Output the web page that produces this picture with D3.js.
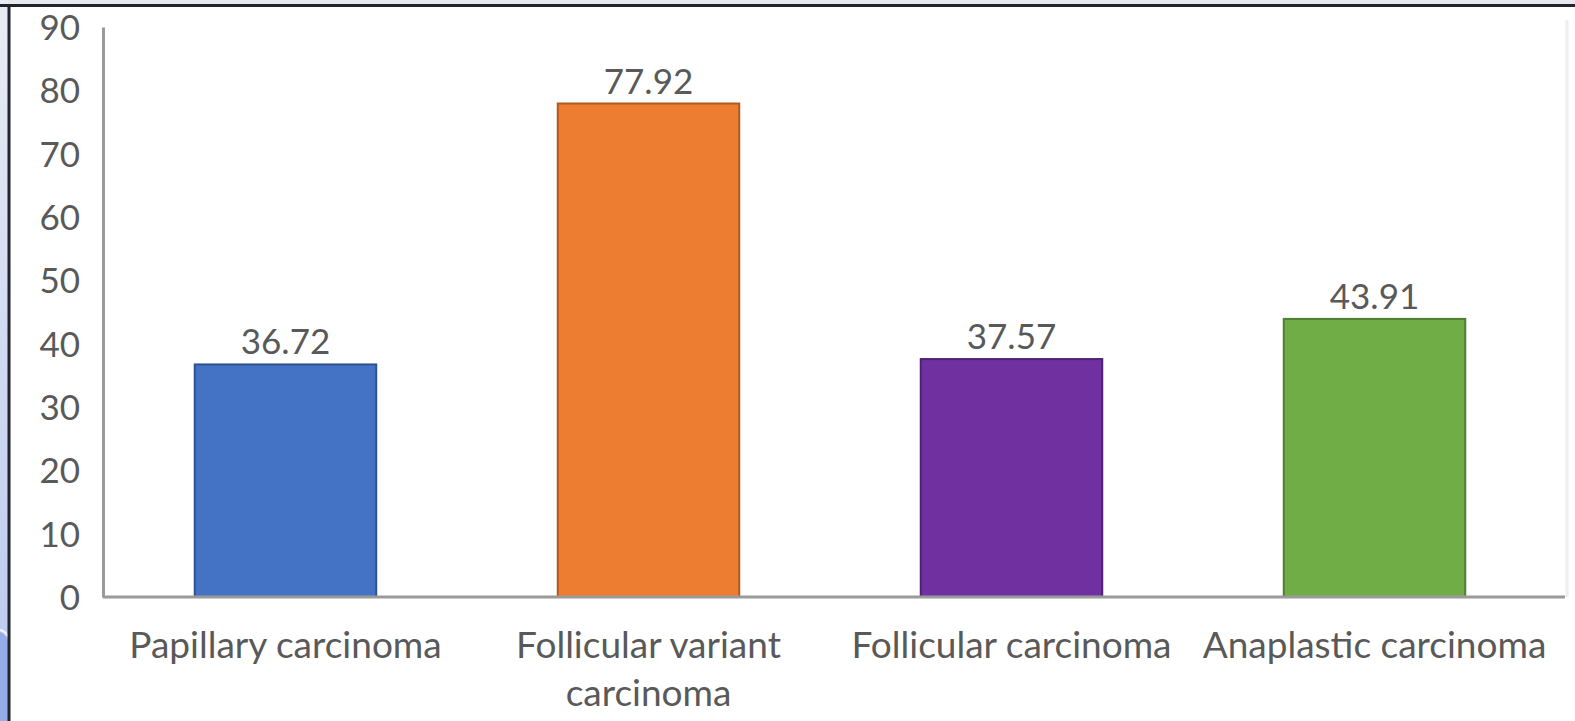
<!DOCTYPE html>
<html>
<head>
<meta charset="utf-8">
<script src="https://cdnjs.cloudflare.com/ajax/libs/d3/7.8.5/d3.min.js"></script>
<style>
	body { margin: 0; background: #fff; }
	svg { display: block; }
	text { font-family: Lato, "Open Sans", sans-serif; fill: #595959; }
</style>
</head>
<body>
<svg width="1575" height="721"></svg>
<script>
var categories = ["Papillary carcinoma", "Follicular variant carcinoma", "Follicular carcinoma", "Anaplastic carcinoma"];
var values = [36.72, 77.92, 37.57, 43.91];
var colors = ["#4472C4", "#ED7D31", "#7030A0", "#70AD47"];
var strokes = ["#2F528F", "#AE5A21", "#4E2270", "#507E32"];
var yTicks = [0, 10, 20, 30, 40, 50, 60, 70, 80, 90];

var svg = d3.select("svg");
var width = +svg.attr("width");
var height = +svg.attr("height");

// the screenshot frame around the chart
var defs = svg.append("defs");
var grad = defs.append("linearGradient").attr("id", "side").attr("x1", 0).attr("y1", 0).attr("x2", 0).attr("y2", 1);
grad.append("stop").attr("offset", "0%").attr("stop-color", "#e9ecf5");
grad.append("stop").attr("offset", "100%").attr("stop-color", "#b9c8ef");
svg.append("rect").attr("x", 0).attr("y", 0).attr("width", width).attr("height", 5).attr("fill", "#e6e8ee");
svg.append("rect").attr("x", 0).attr("y", 0).attr("width", 8).attr("height", height).attr("fill", "url(#side)");
svg.append("path").attr("d", "M0,632 Q5,634 8,640 L8,721 L0,721 Z").attr("fill", "#95ace8");
svg.append("path").attr("d", "M0,630 Q5,631 8,636").attr("fill", "none").attr("stroke", "#f4f6fc").attr("stroke-width", 2);
svg.append("line").attr("x1", 0).attr("x2", width).attr("y1", 5.5).attr("y2", 5.5).attr("stroke", "#22252b").attr("stroke-width", 3);
svg.append("line").attr("x1", 9).attr("x2", 9).attr("y1", 4).attr("y2", height).attr("stroke", "#22252b").attr("stroke-width", 3);
svg.append("line").attr("x1", 1567).attr("x2", 1567).attr("y1", 20).attr("y2", 597).attr("stroke", "#eeeeee").attr("stroke-width", 3);

var x = d3.scaleBand().domain(categories).range([104, 1556]).paddingInner(0.5).paddingOuter(0.25);
var y = d3.scaleLinear().domain([0, 90]).range([597, 27]);

// bars
svg.append("g")
	.selectAll("rect")
	.data(values)
	.enter().append("rect")
		.attr("x", function(d, i) { return x(categories[i]); })
		.attr("y", function(d) { return y(d); })
		.attr("width", x.bandwidth())
		.attr("height", function(d) { return y(0) - y(d); })
		.attr("fill", function(d, i) { return colors[i]; })
		.attr("stroke", function(d, i) { return strokes[i]; })
		.attr("stroke-width", 2);

// value labels
svg.append("g")
	.selectAll("text")
	.data(values)
	.enter().append("text")
		.attr("x", function(d, i) { return x(categories[i]) + x.bandwidth() / 2; })
		.attr("y", function(d) { return y(d) - 10; })
		.attr("text-anchor", "middle")
		.style("font-size", "35px")
		.text(function(d) { return d.toFixed(2); });

// y axis
var yAxis = svg.append("g")
	.attr("transform", "translate(103,0)")
	.call(d3.axisLeft(y).tickValues(yTicks).tickSize(0).tickPadding(23));
yAxis.select(".domain").attr("stroke", "#9a9a9a").attr("stroke-width", 3);
yAxis.selectAll("text").style("font-size", "35px").attr("dy", "0.36em").attr("fill", "#595959");

// x axis
var xAxis = svg.append("g")
	.attr("transform", "translate(0,597)")
	.call(d3.axisBottom(x).tickSize(0).tickPadding(0));
xAxis.select(".domain").attr("d", "M103,0H1565").attr("stroke", "#9a9a9a").attr("stroke-width", 3);
xAxis.selectAll("text")
	.style("font-size", "37px")
	.attr("fill", "#595959")
	.attr("y", 61)
	.attr("dy", 0)
	.call(wrap, x.step());

function wrap(sel, w) {
	sel.each(function() {
		var t = d3.select(this);
		var words = t.text().split(" ");
		var yy = t.attr("y");
		t.text(null);
		var line = [];
		var n = 0;
		var span = t.append("tspan").attr("x", 0).attr("y", yy);
		for (var i = 0; i < words.length; i++) {
			line.push(words[i]);
			span.text(line.join(" "));
			if (span.node().getComputedTextLength() > w && line.length > 1) {
				line.pop();
				span.text(line.join(" "));
				line = [words[i]];
				n++;
				span = t.append("tspan").attr("x", 0).attr("y", +yy + n * 48).text(words[i]);
			}
		}
	});
}
</script>
</body>
</html>
